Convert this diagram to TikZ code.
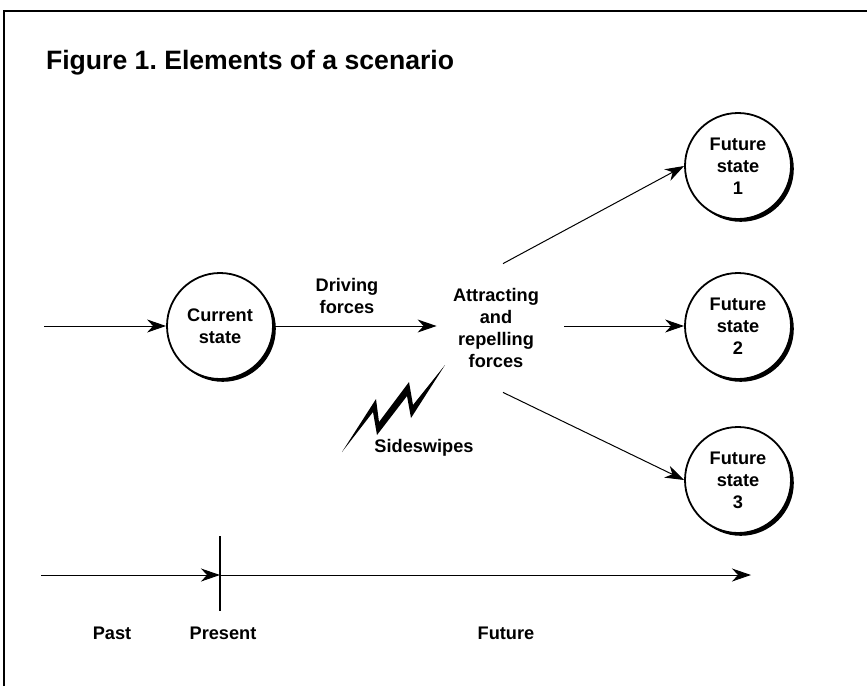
\documentclass[tikz,border=0pt]{standalone}
\usepackage{fontspec}
\setmainfont{Liberation Sans}
\usepackage{tikz}
\usetikzlibrary{arrows.meta,shadows}
\frenchspacing

\begin{document}
\begin{tikzpicture}[x=0.5pt,y=-0.5pt,
  >={Stealth[length=9.5pt,width=6.5pt,inset=3pt]},
  state/.style={circle,draw,line width=0.9pt,fill=white,minimum size=53pt,
    inner sep=0pt,align=center,font=\fontsize{9.1}{11}\selectfont\bfseries,
    general shadow={fill=black,shadow xshift=1.4pt,shadow yshift=-1.4pt}},
  lbl/.style={align=center,font=\fontsize{9.1}{11}\selectfont\bfseries},
  flow/.style={->,line width=0.5pt}]
\useasboundingbox (0,0) rectangle (867,686);
% \draw[step=50,gray,very thin] (0,0) grid (867,686);
\draw[line width=0.8pt] (4,686) -- (4,11) -- (867,11);
\node[anchor=base west,font=\fontsize{13.3}{15}\selectfont\bfseries] (title) at (39,69)
  {Figure 1. Elements of a scenario};

\node[state] (cur) at (220,326) {Current\\state};
\node[state] (fs1) at (738,166) {Future\\state\\1};
\node[state] (fs2) at (738,326) {Future\\state\\2};
\node[state] (fs3) at (738,480) {Future\\state\\3};
\node[lbl,inner sep=0pt,minimum width=59pt,minimum height=64pt] (forces) at (496,328)
  {Attracting\\and\\repelling\\forces};
\node[lbl] (driving) at (347,296) {Driving\\forces};
\coordinate (in) at (44,326);

\draw[flow] (in) -- (cur);
\draw[flow] (cur) -- (forces.west |- cur);
\draw[flow] ([xshift=3.5pt]forces.north) -- (fs1.west);
\draw[flow] ([xshift=4.5pt]forces.east |- fs2) -- (fs2.west);
\draw[flow] ([xshift=3.5pt]forces.south) -- (fs3.west);

%% sideswipes
\fill (342,452) -- (376,399) -- (379,422) -- (409,382) -- (413,405) -- (445,365)
  -- (411,418) -- (407,396) -- (377,435) -- (373,412) -- cycle;
\node[lbl] (swipe) at (424,448) {Sideswipes};

%% time line
\coordinate (past) at (41,575);
\coordinate (now) at (220,575);
\coordinate (later) at (751,575);
\draw[flow] (past) -- (now);
\draw[flow] (now) -- (later);
\draw[line width=1pt] (220,536) -- (220,611);
\node[lbl] (pastlbl) at (112,633) {Past};
\node[lbl] (nowlbl) at (223,633) {Present};
\node[lbl] (futlbl) at (506,633) {Future};
\end{tikzpicture}
\end{document}
